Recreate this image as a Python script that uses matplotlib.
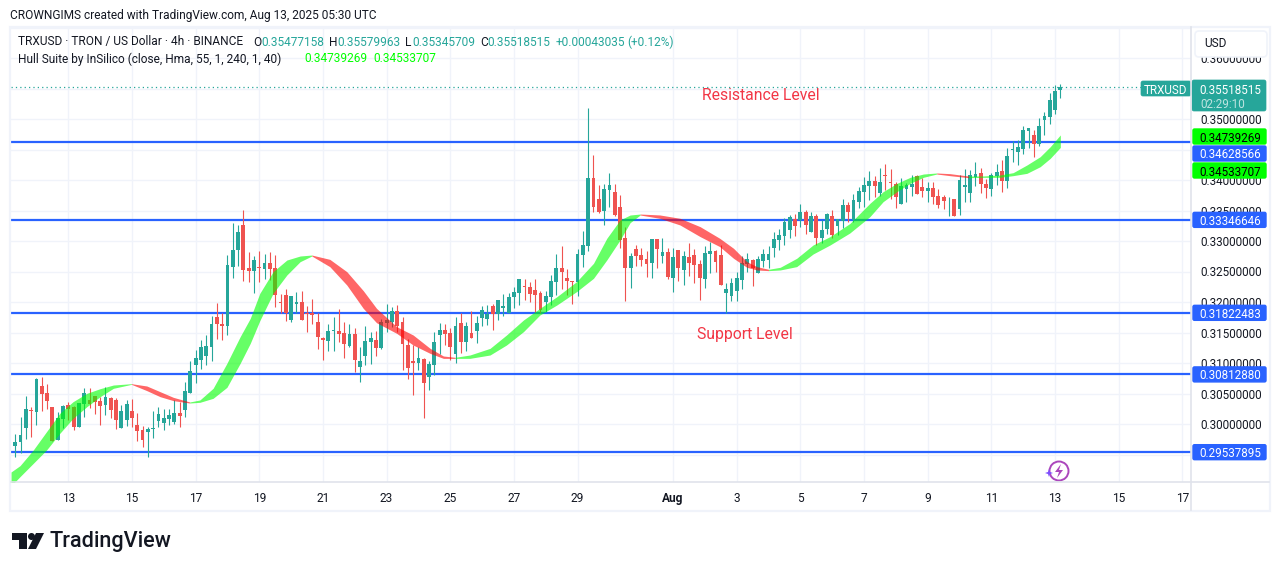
"""TRXUSD 4h candles with the Hull Suite band and hand-drawn horizontal levels."""

import numpy as np
import matplotlib
matplotlib.use('Agg')
import matplotlib.pyplot as plt
from matplotlib.patches import Circle, FancyBboxPatch, Polygon, Rectangle

plt.rcParams['font.family'] = 'Roboto'

WIDTH, HEIGHT = 1281, 571

UP = '#26a69a'
DOWN = '#ef5350'
LEVEL_BLUE = '#2962ff'
GRID = '#f0f3fa'
BORDER = '#e0e3eb'
TEXT = '#131722'
HULL_GREEN = '#00ff00'
PRICE_FONT = 8.35

# bar number 0 is Jul 13 00:00, one bar is 4 hours; prices in 1e-5 USD
FIRST_BAR = -10
OPENS = [
    29640, 29711, 29940, 30230, 30202, 30623, 30514, 30273, 29738, 30082,
    30312, 30279, 29951, 30328, 30394, 30465, 30377, 30312, 30426, 30394,
    29935, 30066, 30213, 29984, 29902, 29875, 29924, 30049, 30017, 30082,
    30033, 30181, 30230, 30508, 30967, 31049, 31115, 31262, 31754, 31639,
    31607, 32574, 32852, 33262, 32557, 32508, 32574, 32541, 32639, 32557,
    32000, 32115, 31705, 31967, 32000, 31825, 31820, 31672, 31410, 31361,
    31530, 31524, 31492, 31279, 31475, 30934, 31115, 31344, 31377, 31246,
    31656, 31667, 31852, 31672, 31295, 31033, 31000, 31065, 30770, 30967,
    31459, 31541, 31492, 31147, 31656, 31344, 31492, 31524, 31738, 31721,
    31934, 31803, 31901, 31820, 32082, 32147, 32262, 32246, 32197, 32147,
    32000, 32082, 32328, 32557, 32393, 32344, 32328, 32770, 32918, 34032,
    33688, 33491, 33836, 33803, 33557, 33049, 32557, 32869, 32770, 32705,
    32639, 33033, 32755, 32820, 32394, 32853, 32525, 32738, 32771, 32623,
    32378, 32787, 32837, 32771, 32148, 32099, 32181, 32361, 32623, 32689,
    32476, 32673, 32689, 32886, 33017, 33082, 33181, 33361, 33345, 33476,
    33148, 33410, 33050, 33197, 33410, 33246, 33328, 33591, 33345, 33640,
    33804, 33902, 33983, 33787, 34082, 33967, 33934, 33606, 33852, 33885,
    34065, 33885, 33819, 33869, 33738, 33721, 33683, 33688, 33524, 33885,
    33787, 34049, 34115, 33934, 33852, 34065, 34147, 33983, 34492, 34459,
    34508, 34803, 34737, 34590, 34983, 35032, 35147, 35477,
]
HIGHS = [
    29836, 30109, 30459, 30284, 30749, 30771, 30656, 30284, 30202, 30306,
    30366, 30295, 30344, 30585, 30590, 30465, 30448, 30607, 30448, 30421,
    30312, 30394, 30410, 30175, 29967, 29956, 30213, 30284, 30241, 30246,
    30394, 30355, 30689, 31033, 31213, 31377, 31459, 31771, 31984, 31814,
    32770, 33295, 33262, 33508, 32820, 32754, 32836, 32787, 32820, 32770,
    32131, 32213, 32098, 32164, 32180, 31934, 32049, 31814, 31426, 31639,
    31754, 31885, 31672, 31639, 31574, 31262, 31606, 31508, 31524, 31721,
    31967, 31923, 31951, 31759, 31393, 31295, 31262, 31082, 31033, 31508,
    31656, 31639, 31574, 31754, 31820, 31672, 31852, 31770, 31934, 31951,
    31967, 32033, 32131, 32147, 32246, 32377, 32377, 32328, 32377, 32180,
    32180, 32442, 32787, 32918, 32541, 32344, 32869, 33164, 35180, 34409,
    33918, 33934, 34114, 33934, 33754, 33229, 32803, 32934, 32885, 32836,
    33033, 33033, 33050, 32886, 32886, 32853, 32837, 32968, 32869, 32689,
    32919, 32984, 32853, 32935, 32312, 32394, 32492, 32755, 32804, 32705,
    32755, 32869, 32919, 33148, 33197, 33378, 33427, 33443, 33607, 33509,
    33476, 33443, 33345, 33459, 33509, 33361, 33689, 33640, 33771, 33886,
    34050, 34148, 34065, 34197, 34262, 34180, 33967, 34033, 33951, 34082,
    34082, 34033, 33967, 33967, 33852, 33754, 33721, 33688, 34082, 34180,
    34164, 34295, 34197, 34016, 34115, 34262, 34328, 34524, 34639, 34655,
    34885, 34852, 34819, 35016, 35114, 35426, 35557, 35580,
]
LOWS = [
    29465, 29530, 29760, 29787, 29984, 30213, 30246, 29722, 29738, 29929,
    30066, 29902, 29951, 30120, 30257, 30170, 29984, 30148, 30093, 29918,
    29935, 29973, 29956, 29727, 29623, 29465, 29771, 29956, 29902, 29984,
    30000, 29951, 30115, 30508, 30678, 30902, 30967, 31033, 31394, 31377,
    31459, 32393, 32590, 32344, 32328, 32148, 32328, 32377, 32361, 31918,
    31820, 31689, 31672, 31820, 31705, 31508, 31639, 31230, 31049, 31197,
    31202, 31344, 31082, 31262, 30852, 30688, 30967, 30984, 31115, 31230,
    31503, 31585, 31503, 30885, 30738, 30475, 30885, 30098, 30557, 30803,
    31147, 31295, 31049, 31000, 31164, 31197, 31410, 31328, 31606, 31623,
    31541, 31705, 31770, 31820, 31901, 31951, 32033, 32000, 31836, 31820,
    31836, 31951, 32115, 32213, 32115, 31967, 32098, 32574, 32836, 33475,
    33459, 33262, 33557, 33410, 32885, 32016, 32229, 32590, 32590, 32410,
    32393, 32557, 32640, 32378, 32164, 32345, 32279, 32427, 32312, 32033,
    32230, 32476, 32492, 32279, 31820, 32017, 32017, 32214, 32492, 32263,
    32476, 32574, 32558, 32738, 32853, 32935, 33050, 33082, 33230, 33115,
    33148, 32935, 32968, 33115, 33050, 33099, 33214, 33312, 33312, 33541,
    33558, 33673, 33721, 33738, 33836, 33688, 33541, 33606, 33639, 33738,
    33770, 33721, 33639, 33606, 33541, 33524, 33410, 33410, 33426, 33639,
    33639, 33901, 33787, 33705, 33738, 33918, 33803, 33869, 34295, 34246,
    34426, 34524, 34377, 34557, 34737, 34918, 35082, 35346,
]
CLOSES = [
    29705, 29820, 30246, 30213, 30738, 30492, 30383, 29727, 30099, 30295,
    30246, 29951, 30344, 30508, 30328, 30366, 30295, 30448, 30230, 30071,
    30213, 30328, 30099, 29891, 29738, 29918, 29935, 30164, 30099, 30148,
    30181, 30131, 30541, 30869, 31082, 31262, 31279, 31639, 31639, 31607,
    32607, 32852, 33147, 32525, 32508, 32688, 32557, 32639, 32541, 32115,
    31984, 31820, 32098, 32000, 31705, 31809, 31787, 31426, 31377, 31525,
    31541, 31475, 31311, 31475, 31049, 31033, 31361, 31410, 31246, 31672,
    31705, 31847, 31606, 31317, 30918, 31000, 31082, 30672, 30984, 31344,
    31541, 31475, 31262, 31606, 31344, 31606, 31410, 31656, 31869, 31803,
    31803, 32033, 31934, 32082, 32164, 32377, 32246, 32131, 32115, 31869,
    32098, 32344, 32557, 32492, 32344, 32328, 32787, 32934, 34032, 33557,
    33475, 33852, 33918, 33426, 33016, 32557, 32754, 32754, 32688, 32623,
    33033, 32869, 32820, 32410, 32738, 32558, 32755, 32640, 32607, 32394,
    32804, 32837, 32656, 32279, 32214, 32312, 32394, 32640, 32705, 32558,
    32705, 32787, 32787, 33033, 33099, 33312, 33394, 33246, 33476, 33263,
    33410, 33050, 33181, 33443, 33099, 33361, 33591, 33476, 33673, 33820,
    33918, 33984, 33901, 33967, 34065, 33951, 33721, 33901, 33918, 33934,
    33770, 33819, 33869, 33721, 33590, 33656, 33688, 33410, 34000, 33918,
    34082, 34098, 33934, 33869, 34082, 34131, 33983, 34393, 34508, 34541,
    34819, 34852, 34590, 34885, 35049, 35311, 35459, 35519,
]

# Hull band edges read at these bar numbers
HULL_BARS = [
    -10.8, -9.1, -6.6, -4.1, -1.6, 0.9, 3.5, 6.0, 8.5, 11.9, 14.8, 17.3, 19.8,
    22.9, 24.8, 27.3, 29.9, 32.4, 34.3, 36.1, 38.6, 41.2, 43.7, 45.9, 49.3,
    52.5, 55.6, 58.1, 61.9, 65.0, 68.2, 70.7, 72.9, 75.7, 79.5, 82.6, 85.8,
    88.9, 92.1, 95.8, 99.0, 101.5, 104.0, 105.9, 107.8, 111.5, 115.3, 119.1,
    122.8, 125.4, 127.9, 129.8, 132.0, 134.2, 137.3, 140.4, 143.6, 147.3,
    151.1, 153.6, 156.2, 158.7, 161.2, 163.7, 166.2, 169.7, 172.5, 175.6,
    178.1, 180.7, 183.2, 185.1, 187,
]
HULL_UPPER = [
    29213, 29317, 29574, 29875, 30175, 30366, 30503, 30579, 30639, 30661, 30623,
    30530, 30437, 30361, 30394, 30585, 30995, 31432, 31732, 32142, 32497, 32688,
    32754, 32770, 32699, 32497, 32186, 31896, 31595, 31459, 31240, 31115, 31093,
    31131, 31240, 31459, 31705, 31896, 32087, 32333, 32634, 33043, 33344, 33426,
    33442, 33427, 33372, 33235, 33044, 32880, 32662, 32580, 32536, 32569, 32716,
    32935, 33072, 33285, 33617, 33809, 33945, 34044, 34098, 34115, 34104, 34065,
    34066, 34082, 34120, 34246, 34382, 34546, 34739,
]
HULL_LOWER = [
    28984, 29137, 29355, 29574, 29847, 30093, 30284, 30448, 30585, 30650, 30547,
    30448, 30383, 30344, 30355, 30421, 30601, 30995, 31322, 31694, 32142, 32443,
    32661, 32754, 32579, 32278, 31896, 31661, 31486, 31295, 31158, 31076, 31076,
    31076, 31131, 31295, 31514, 31787, 31951, 32169, 32388, 32688, 33016, 33300,
    33426, 33372, 33263, 33072, 32908, 32716, 32569, 32525, 32514, 32525, 32580,
    32787, 32935, 33130, 33399, 33645, 33809, 33945, 34044, 34098, 34071, 34038,
    34044, 34044, 34071, 34109, 34218, 34355, 34534,
]

LEVELS = [0.34628566, 0.33346646, 0.31822483, 0.30812880, 0.29537895]
PRICE_TICKS = [0.295, 0.30, 0.305, 0.31, 0.315, 0.32, 0.325, 0.33, 0.335, 0.34,
               0.345, 0.35, 0.355, 0.36, 0.365]
# scale labels that lie fully under a price tag or off the chart
COVERED_TICKS = [0.295, 0.345, 0.355, 0.365]
LAST_PRICE = 0.35518515
HULL_VALUES = ['0.34739269', '0.34533707']

# one label every 2 days, Jul 31 is skipped for the month label
DAY_BARS = [0, 12, 24, 36, 48, 60, 72, 84, 96, 114, 126, 138, 150, 162, 174,
            186, 198, 210]
DAY_LABELS = ['13', '15', '17', '19', '21', '23', '25', '27', '29', 'Aug', '3',
              '5', '7', '9', '11', '13', '15', '17']


def draw_hull(ax):
    bars = np.array(HULL_BARS)
    upper = np.array(HULL_UPPER) / 1e5
    lower = np.array(HULL_LOWER) / 1e5
    falling = np.diff(upper) < 0
    start = 0
    for i in range(1, len(falling) + 1):
        if i == len(falling) or falling[i] != falling[start]:
            colour = '#ff0000' if falling[start] else HULL_GREEN
            ax.fill_between(bars[start:i + 1], lower[start:i + 1], upper[start:i + 1],
                            color=colour, alpha=0.6, linewidth=0, zorder=4)
            start = i


def draw_candles(ax):
    opens = np.array(OPENS) / 1e5
    highs = np.array(HIGHS) / 1e5
    lows = np.array(LOWS) / 1e5
    closes = np.array(CLOSES) / 1e5
    bars = FIRST_BAR + np.arange(len(opens))
    colours = [UP if c >= o else DOWN for o, c in zip(opens, closes)]
    ax.vlines(bars, lows, highs, colors=colours, linewidth=0.8, zorder=3)
    heights = np.maximum(np.abs(closes - opens), 0.00006)
    ax.bar(bars, heights, bottom=np.minimum(opens, closes), width=0.72,
           color=colours, linewidth=0, zorder=3)


def tag(over, y, text, fc, tc, h=17):
    """Price label on the right scale, y in picture pixels."""
    over.add_patch(FancyBboxPatch((1193, y - h / 2 + 1), 73, h - 2, boxstyle='round,pad=0,rounding_size=1.5',
                                  fc=fc, ec=fc, lw=1))
    over.text(1230, y, text, color=tc, fontsize=PRICE_FONT, ha='center', va='center_baseline')


def draw_chrome(over, price_to_y):
    # frame of the chart
    over.add_patch(Rectangle((10, 26.5), 1260, 484.5, fc='none', ec=GRID, lw=1.6))
    over.plot([11, 1269], [482, 482], color=BORDER, lw=1.2)
    over.plot([1191, 1191], [27, 510], color=BORDER, lw=1.2)

    # unit box hides the top of the highest scale label
    over.add_patch(FancyBboxPatch((1195, 31), 72, 26, boxstyle='round,pad=0,rounding_size=4',
                                  fc='white', ec=GRID, lw=1.2))
    over.text(1204, 43.5, 'USD', color=TEXT, fontsize=8.6, va='center')

    # last price
    over.add_patch(FancyBboxPatch((1141, 81), 50, 15, boxstyle='round,pad=0,rounding_size=2',
                                  fc=UP, ec=UP, lw=0.5))
    over.text(1166, 88.5, 'TRXUSD', color='white', fontsize=PRICE_FONT, ha='center', va='center_baseline')
    over.add_patch(FancyBboxPatch((1192, 80), 74, 31, boxstyle='round,pad=0,rounding_size=2',
                                  fc=UP, ec=UP, lw=0.5))
    over.text(1230, 88.5, '0.35518515', color='white', fontsize=PRICE_FONT, ha='center', va='center_baseline')
    over.text(1200, 102.5, '02:29:10', color='#bfe4e1', fontsize=PRICE_FONT, va='center_baseline')

    # the upper labels are pushed apart so they do not overlap
    tag(over, 136.5, HULL_VALUES[0], HULL_GREEN, 'black')
    tag(over, 153.5, f'{LEVELS[0]:.8f}', LEVEL_BLUE, 'white')
    tag(over, 170.5, HULL_VALUES[1], HULL_GREEN, 'black')
    for level in LEVELS[1:]:
        tag(over, price_to_y(level), f'{level:.8f}', LEVEL_BLUE, 'white')

    # header lines
    over.text(10, 15, 'CROWNGIMS created with TradingView.com, Aug 13, 2025 05:30 UTC',
              color=TEXT, fontsize=8.6, va='center')
    row = [(18, 'TRXUSD · TRON / US Dollar · 4h · BINANCE', TEXT), (253, 'O', TEXT),
           (261, '0.35477158', UP), (329, 'H', TEXT), (337, '0.35579963', UP),
           (405, 'L', TEXT), (412, '0.35345709', UP), (480, 'C', TEXT),
           (487, '0.35518515', UP), (556, '+0.00043035', UP), (627, '(+0.12%)', UP)]
    for x, text, colour in row:
        over.text(x, 42, text, color=colour, fontsize=8.6, va='center')
    over.text(18, 59, 'Hull Suite by InSilico (close, Hma, 55, 1, 240, 1, 40)', color=TEXT,
              fontsize=8.6, va='center')
    over.text(304, 59, HULL_VALUES[0], color=HULL_GREEN, fontsize=8.6, va='center')
    over.text(373, 59, HULL_VALUES[1], color=HULL_GREEN, fontsize=8.6, va='center')

    # notes on the chart
    over.text(761, 95, 'Resistance Level', color='#f23645', fontsize=11.3, ha='center', va='center')
    over.text(745, 335, 'Support Level', color='#f23645', fontsize=11.3, ha='center', va='center')

    # lightning mark
    over.add_patch(Circle((1059, 471), 9.5, fc='white', ec='#ab47bc', lw=1.4))
    over.add_patch(Polygon([(1061, 464), (1055, 472), (1059, 472), (1057, 478), (1063, 470), (1059, 470)],
                           fc='#ab47bc', ec='none'))
    over.add_patch(Polygon([(1049, 469), (1050, 472), (1053, 473), (1050, 474), (1049, 477), (1048, 474),
                            (1045, 473), (1048, 472)], fc='#7c4dff', ec='none'))

    # TradingView logo
    over.add_patch(Polygon([(12, 533), (27, 533), (27, 549), (19, 549), (19, 540), (12, 540)],
                           fc=TEXT, ec='none'))
    over.add_patch(Circle((31.5, 536.5), 3.5, fc=TEXT, ec='none'))
    over.add_patch(Polygon([(36, 533), (44, 533), (36, 549), (28, 549)], fc=TEXT, ec='none'))
    over.text(49, 542, 'TradingView', color=TEXT, fontsize=15.6, fontweight='medium', va='center')


def main():
    fig = plt.figure(figsize=(WIDTH / 100, HEIGHT / 100), dpi=100, facecolor='white')
    ax = fig.add_axes([11 / WIDTH, 1 - 482 / HEIGHT, 1180 / WIDTH, 455 / HEIGHT])

    # 0.35 sits on pixel row 119, 0.005 is 30.5 pixels
    def price_to_y(p):
        return 119 + (0.35 - p) * 6100

    ax.set_ylim(0.35 - (482 - 119) / 6100, 0.35 + (119 - 27) / 6100)
    ax.set_xlim((11 - 68.3) / 5.305, (1191 - 68.3) / 5.305)
    ax.set_axisbelow(True)
    ax.grid(True, color=GRID, linewidth=1)
    for spine in ax.spines.values():
        spine.set_visible(False)

    ax.yaxis.tick_right()
    ax.set_yticks(PRICE_TICKS)
    ax.set_yticklabels(['' if p in COVERED_TICKS else f'{p:.8f}' for p in PRICE_TICKS],
                       fontsize=PRICE_FONT, color=TEXT)
    ax.set_xticks(DAY_BARS)
    ax.set_xticklabels(DAY_LABELS, fontsize=8.6, color=TEXT)
    ax.get_xticklabels()[DAY_LABELS.index('Aug')].set_fontweight('bold')
    ax.tick_params(axis='both', length=0)
    ax.tick_params(axis='x', pad=7)
    ax.tick_params(axis='y', pad=6.5)

    for level in LEVELS:
        ax.axhline(level, color=LEVEL_BLUE, linewidth=1.6, zorder=2.8)
    ax.axhline(LAST_PRICE, color=UP, linewidth=0.9, linestyle=(0, (1, 2.5)), zorder=2.8)

    draw_candles(ax)
    draw_hull(ax)

    over = fig.add_axes([0, 0, 1, 1], facecolor='none')
    over.set_xlim(0, WIDTH)
    over.set_ylim(HEIGHT, 0)
    over.axis('off')
    draw_chrome(over, price_to_y)

    fig.savefig('out.png', dpi=100, facecolor='white')
    plt.close(fig)


if __name__ == '__main__':
    main()
